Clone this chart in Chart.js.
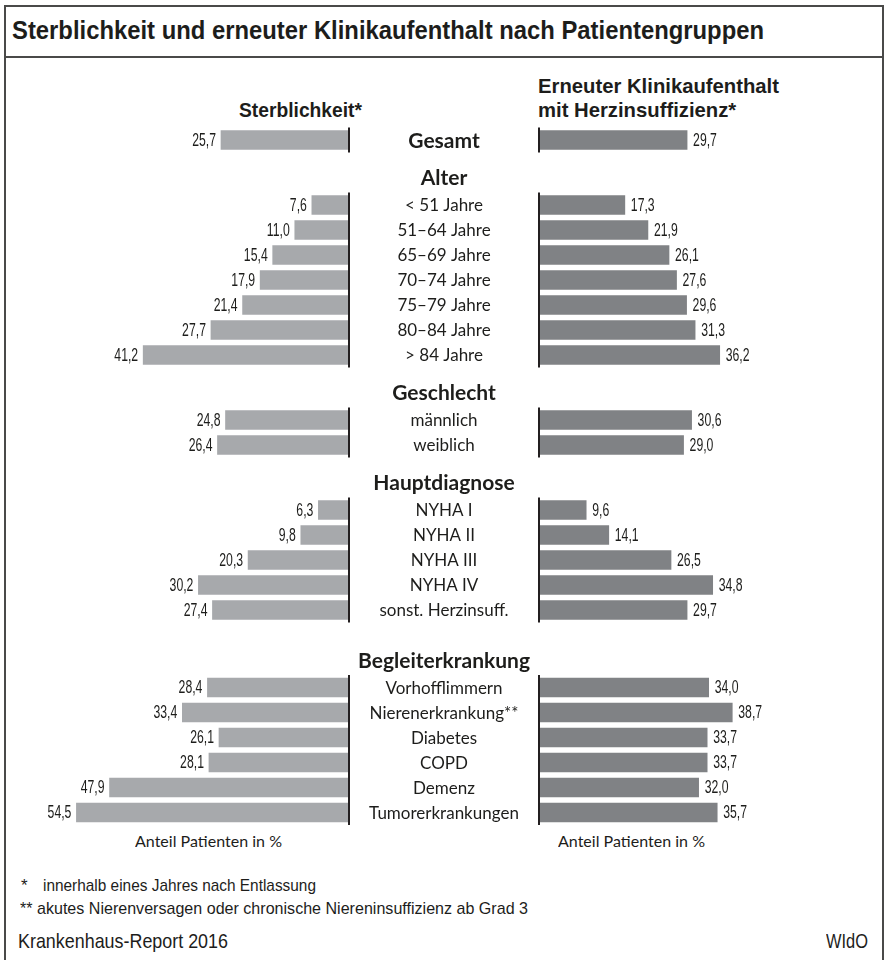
<!DOCTYPE html>
<html lang="de">
<head>
<meta charset="utf-8">
<title>Sterblichkeit und erneuter Klinikaufenthalt nach Patientengruppen</title>
<script src="https://cdn.jsdelivr.net/npm/chart.js@4.4.1/dist/chart.umd.min.js"></script>
<style>
  body { margin: 0; background: #fff; }
  #page {
    position: relative; width: 887px; height: 960px; overflow: hidden;
    font-family: "Liberation Sans", Arial, sans-serif;
    color: #1d1d1b;
  }
  .frame { position: absolute; left: 4px; top: 5px; width: 880px; height: 1000px;
    border: 2px solid #4a4a49; box-sizing: border-box; }
  .rule { position: absolute; left: 4px; width: 880px; top: 56px; border-top: 2px solid #4a4a49; }
  .t { position: absolute; white-space: nowrap; line-height: 24px; height: 24px; transform-origin: 0 50%; }
  .bold { font-weight: bold; }
  canvas { position: absolute; top: 0; }
</style>
</head>
<body>
<div id="page">
  <div class="frame"></div>
  <div class="rule"></div>
  <div class="t bold" id="title" data-x="12" data-w="752" data-a="l" style="top:18px; font-size:26px;">Sterblichkeit und erneuter Klinikaufenthalt nach Patientengruppen</div>
  <div class="t bold" data-x="362" data-k="title" data-a="r" style="top:98px; font-size:21px;">Sterblichkeit*</div>
  <div class="t bold" id="h2" data-x="538" data-w="241" data-a="l" style="top:74px; font-size:21px;">Erneuter Klinikaufenthalt</div>
  <div class="t bold" data-x="538" data-k="h2" data-a="l" style="top:98px; font-size:21px;">mit Herzinsuffizienz*</div>
  <div class="t" data-x="208" data-w="147" data-a="c" style="top:829px; font-family:Lato,sans-serif; font-size:16px;">Anteil Patienten in %</div>
  <div class="t" data-x="631" data-w="147" data-a="c" style="top:829px; font-family:Lato,sans-serif; font-size:16px;">Anteil Patienten in %</div>
  <div class="t" data-x="21" data-k="fn1" data-a="l" style="top:874px; font-size:17px;">*</div>
  <div class="t" id="fn1" data-x="43" data-w="273" data-a="l" style="top:874px; font-size:17px;">innerhalb eines Jahres nach Entlassung</div>
  <div class="t" data-x="20" data-w="508" data-a="l" style="top:897px; font-size:17px;">** akutes Nierenversagen oder chronische Niereninsuffizienz ab Grad 3</div>
  <div class="t" data-x="18" data-w="210" data-a="l" style="top:929px; font-size:21px;">Krankenhaus-Report 2016</div>
  <div class="t" data-x="868" data-w="42" data-a="r" style="top:929px; font-size:21px;">WIdO</div>
  <canvas id="left" width="350" height="960" style="left:0;"></canvas>
  <canvas id="right" width="537" height="960" style="left:350px;"></canvas>
</div>
<script>
const NARROW = '"Liberation Sans", Arial, sans-serif';
const SANS = 'Lato, "Open Sans", sans-serif';

// Werte (in %)
const totalLabel = 'Gesamt';
const totalMortality = [25.7];
const totalRehosp = [29.7];

const groupTitles = ['Alter', 'Geschlecht', 'Hauptdiagnose', 'Begleiterkrankung'];

const ageLabels = ['< 51 Jahre', '51–64 Jahre', '65–69 Jahre', '70–74 Jahre', '75–79 Jahre', '80–84 Jahre', '> 84 Jahre'];
const ageMortality = [7.6, 11.0, 15.4, 17.9, 21.4, 27.7, 41.2];
const ageRehosp = [17.3, 21.9, 26.1, 27.6, 29.6, 31.3, 36.2];

const sexLabels = ['männlich', 'weiblich'];
const sexMortality = [24.8, 26.4];
const sexRehosp = [30.6, 29.0];

const diagLabels = ['NYHA I', 'NYHA II', 'NYHA III', 'NYHA IV', 'sonst. Herzinsuff.'];
const diagMortality = [6.3, 9.8, 20.3, 30.2, 27.4];
const diagRehosp = [9.6, 14.1, 26.5, 34.8, 29.7];

const comorbLabels = ['Vorhofflimmern', 'Nierenerkrankung**', 'Diabetes', 'COPD', 'Demenz', 'Tumorerkrankungen'];
const comorbMortality = [28.4, 33.4, 26.1, 28.1, 47.9, 54.5];
const comorbRehosp = [34.0, 38.7, 33.7, 33.7, 32.0, 35.7];

// Layout in Zeilen-Einheiten (1 Zeile = 25 px)
const ROW_PX = 25;
const PX_PER_PCT = 5.02;
const groupGap = [0, 1.5, 1.5, 1.5, 2.0];

// schmale Schrift nachbilden: Texte horizontal stauchen
const scales = {};
document.querySelectorAll('.t').forEach(el => {
  const w = el.getBoundingClientRect().width;
  const k = el.dataset.w ? parseFloat(el.dataset.w) / w : scales[el.dataset.k];
  if (el.id) scales[el.id] = k;
  const x = parseFloat(el.dataset.x);
  const tw = w * k;
  const left = el.dataset.a === 'r' ? x - tw : el.dataset.a === 'c' ? x - tw / 2 : x;
  el.style.left = left + 'px';
  el.style.transform = 'scaleX(' + k + ')';
});

const groups = [
  { title: null, labels: [totalLabel], mort: totalMortality, reh: totalRehosp },
  { title: groupTitles[0], labels: ageLabels, mort: ageMortality, reh: ageRehosp },
  { title: groupTitles[1], labels: sexLabels, mort: sexMortality, reh: sexRehosp },
  { title: groupTitles[2], labels: diagLabels, mort: diagMortality, reh: diagRehosp },
  { title: groupTitles[3], labels: comorbLabels, mort: comorbMortality, reh: comorbRehosp }
];

const textRows = [];
const segments = [];
const mortData = [];
const rehData = [];
let pos = 5.6;
groups.forEach((g, gi) => {
  if (gi > 0) {
    pos += groupGap[gi];
    textRows.push({ label: g.title, y: pos, bold: true });
    pos += 1.1;
  }
  const first = pos;
  g.labels.forEach((lab, i) => {
    textRows.push({ label: lab, y: pos, bold: gi === 0 });
    mortData.push({ x: g.mort[i], y: pos });
    rehData.push({ x: g.reh[i], y: pos });
    if (i < g.labels.length - 1) pos += 1;
  });
  segments.push([first, pos]);
});

const fmt = v => v.toFixed(1).replace('.', ',');

function narrowText(ctx, text, x, y, align) {
  const k = 0.68;
  const w = ctx.measureText(text).width * k;
  const x0 = align === 'right' ? x - w : x;
  ctx.save();
  ctx.translate(x0, y);
  ctx.scale(k, 1);
  ctx.textAlign = 'left';
  ctx.fillText(text, 0, 0);
  ctx.restore();
}

function decoPlugin(side) {
  return {
    id: 'deco' + side,
    afterDatasetsDraw(chart) {
      const { ctx, chartArea, scales } = chart;
      const y = scales.y;
      ctx.save();
      // Grundlinien je Gruppe
      const bx = side === 'left' ? chartArea.right - 1 : chartArea.left + 1;
      ctx.strokeStyle = '#231f20';
      ctx.lineWidth = 2;
      segments.forEach(([a, b]) => {
        ctx.beginPath();
        ctx.moveTo(bx, y.getPixelForValue(a) - 12.5);
        ctx.lineTo(bx, y.getPixelForValue(b) + 12.5);
        ctx.stroke();
      });
      // Werte
      ctx.fillStyle = '#1d1d1b';
      ctx.font = '18px ' + NARROW;
      ctx.textBaseline = 'middle';
      const meta = chart.getDatasetMeta(0);
      const data = chart.data.datasets[0].data;
      meta.data.forEach((el, i) => {
        if (side === 'left') {
          narrowText(ctx, fmt(data[i].x), el.x - 5, el.y + 1, 'right');
        } else {
          narrowText(ctx, fmt(data[i].x), el.x + 6, el.y + 1, 'left');
        }
      });
      // Kategorien in der Mitte
      if (side === 'right') {
        const cx = chartArea.left - 94;
        ctx.textAlign = 'center';
        textRows.forEach(r => {
          ctx.font = r.bold ? 'bold 21px ' + SANS : '17px ' + SANS;
          ctx.fillText(r.label, cx, y.getPixelForValue(r.y) + 1);
        });
      }
      ctx.restore();
    }
  };
}

function makeChart(id, side, data, color, width) {
  const areaWidth = side === 'left' ? width : width - 188;
  return new Chart(document.getElementById(id), {
    type: 'bar',
    data: {
      datasets: [{
        data: data,
        backgroundColor: color,
        borderWidth: 0,
        barThickness: 19
      }]
    },
    options: {
      indexAxis: 'y',
      responsive: false,
      maintainAspectRatio: false,
      animation: false,
      layout: { padding: side === 'left' ? 0 : { left: 188, right: 0, top: 0, bottom: 0 } },
      scales: {
        x: {
          type: 'linear',
          display: false,
          reverse: side === 'left',
          min: 0,
          max: areaWidth / PX_PER_PCT
        },
        y: {
          type: 'linear',
          display: false,
          offset: false,
          reverse: true,
          min: 0,
          max: 960 / ROW_PX
        }
      },
      plugins: {
        legend: { display: false },
        tooltip: { enabled: false }
      }
    },
    plugins: [decoPlugin(side)]
  });
}

makeChart('left', 'left', mortData, '#a7a9ac', 350);
makeChart('right', 'right', rehData, '#808285', 537);
</script>
</body>
</html>
